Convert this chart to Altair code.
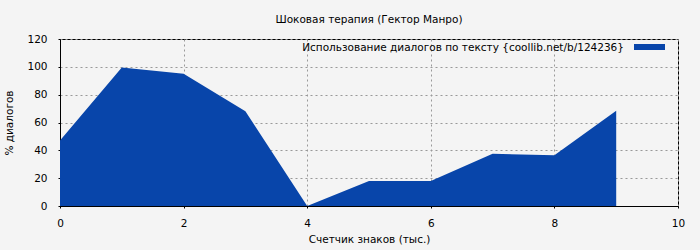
import altair as alt
import pandas as pd

x_vals = [0, 1, 2, 3, 4, 5, 6, 7, 8, 9]
y_vals = [47, 99.5, 95, 68, 0, 18, 18, 37.5, 36.5, 68.5]
title_text = "Шоковая терапия (Гектор Манро)"
legend_text = "Использование диалогов по тексту {coollib.net/b/124236}"
x_title = "Счетчик знаков (тыс.)"
y_title = "% диалогов"
color = "#0845AA"
font = "DejaVu Sans"
fs = 10.5

df = pd.DataFrame({"x": x_vals, "y": y_vals})

area = alt.Chart(df).mark_area(color=color, opacity=1, interpolate="linear").encode(
    x=alt.X("x:Q", scale=alt.Scale(domain=[0, 10], nice=False),
            axis=alt.Axis(values=[0, 2, 4, 6, 8, 10], title=x_title, format="d")),
    y=alt.Y("y:Q", scale=alt.Scale(domain=[0, 120], nice=False),
            axis=alt.Axis(values=[0, 20, 40, 60, 80, 100, 120], title=y_title)),
)

leg_df = pd.DataFrame({"t": [legend_text]})
leg_text = alt.Chart(leg_df).mark_text(
    align="right", baseline="middle", font=font, fontSize=fs, color="black"
).encode(text="t:N", x=alt.value(564), y=alt.value(9))
leg_rect = alt.Chart(leg_df).mark_rect(color=color).encode(
    x=alt.value(574), x2=alt.value(605), y=alt.value(5), y2=alt.value(11)
)

chart = alt.layer(area, leg_text, leg_rect).properties(
    width=618, height=167,
    title=alt.TitleParams(title_text, anchor="middle", fontSize=fs, fontWeight="normal",
                          font=font, color="black", offset=9),
    background="#f4f4f4",
    autosize=alt.AutoSizeParams(type="none"),
    padding={"left": 60, "top": 39, "right": 22, "bottom": 44},
).configure_view(stroke="black", strokeWidth=1, fill="#f4f4f4").configure_axis(
    gridColor="#999999", gridDash=[2, 3], gridOpacity=1, gridWidth=1,
    domainColor="black", tickColor="black", tickSize=2, labelFlush=False,
    labelFont=font, labelFontSize=fs, labelColor="black",
    titleFont=font, titleFontSize=fs, titleFontWeight="normal", titleColor="black",
).configure_axisY(titlePadding=12, labelPadding=11).configure_axisX(titlePadding=6, labelPadding=10)

chart.save("out.html", embed_options={"renderer": "svg", "actions": False})
